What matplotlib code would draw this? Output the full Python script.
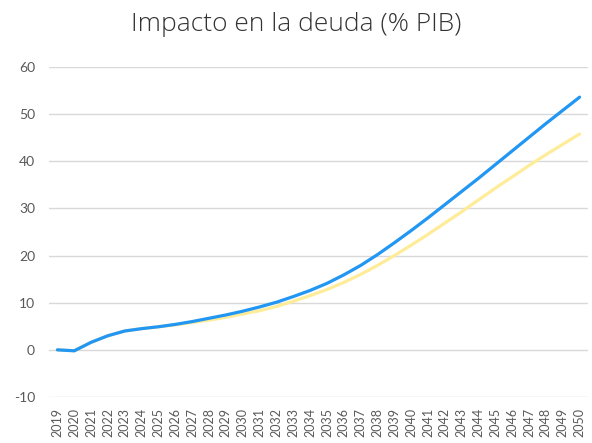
import matplotlib
matplotlib.use("Agg")
import matplotlib.pyplot as plt

# datos
years = [str(y) for y in range(2019, 2051)]
impacto_azul = [0.0, -0.2, 1.6, 3.0, 4.0, 4.5, 4.9, 5.4, 6.0, 6.7, 7.4,
                8.2, 9.1, 10.1, 11.3, 12.6, 14.1, 15.9, 17.9, 20.2, 22.7,
                25.3, 28.0, 30.8, 33.6, 36.4, 39.3, 42.2, 45.1, 48.0, 50.8, 53.6]
impacto_amarillo = [0.0, -0.2, 1.6, 3.0, 4.0, 4.5, 4.9, 5.3, 5.8, 6.3, 6.9,
                    7.6, 8.3, 9.2, 10.3, 11.5, 12.8, 14.3, 16.0, 17.9, 20.0,
                    22.2, 24.5, 26.9, 29.3, 31.8, 34.3, 36.7, 39.1, 41.4, 43.6, 45.8]
yticks = [-10, 0, 10, 20, 30, 40, 50, 60]

plt.rcParams["font.family"] = ["Lato", "DejaVu Sans"]

fig = plt.figure(figsize=(5.92, 4.43), dpi=100)
ax = fig.add_axes([49 / 592, 46 / 443, 539 / 592, 330 / 443])

x = list(range(len(years)))
ax.plot(x, impacto_amarillo, color="#FFEC99", linewidth=2.3, solid_capstyle="round")
ax.plot(x, impacto_azul, color="#2196F3", linewidth=2.3, solid_capstyle="round")

ax.set_xlim(-0.5, len(years) - 0.5)
ax.set_ylim(-10, 60)
ax.set_yticks(yticks)
ax.set_yticklabels([str(v) for v in yticks])
ax.set_xticks(x)
ax.set_xticklabels(years, rotation=90)

ax.grid(axis="y", color="#D9D9D9", linewidth=1)
ax.set_axisbelow(True)
for s in ax.spines.values():
    s.set_visible(False)
ax.tick_params(axis="both", length=0, colors="#595959")
ax.tick_params(axis="y", labelsize=10, pad=10)
ax.tick_params(axis="x", labelsize=9, pad=8)

fig.text(0.5, 0.944, "Impacto en la deuda (% PIB)", ha="center", va="center",
         fontsize=19, family=["Open Sans", "DejaVu Sans"], fontweight="light",
         color="#333333")

fig.savefig("out.png", dpi=100)
